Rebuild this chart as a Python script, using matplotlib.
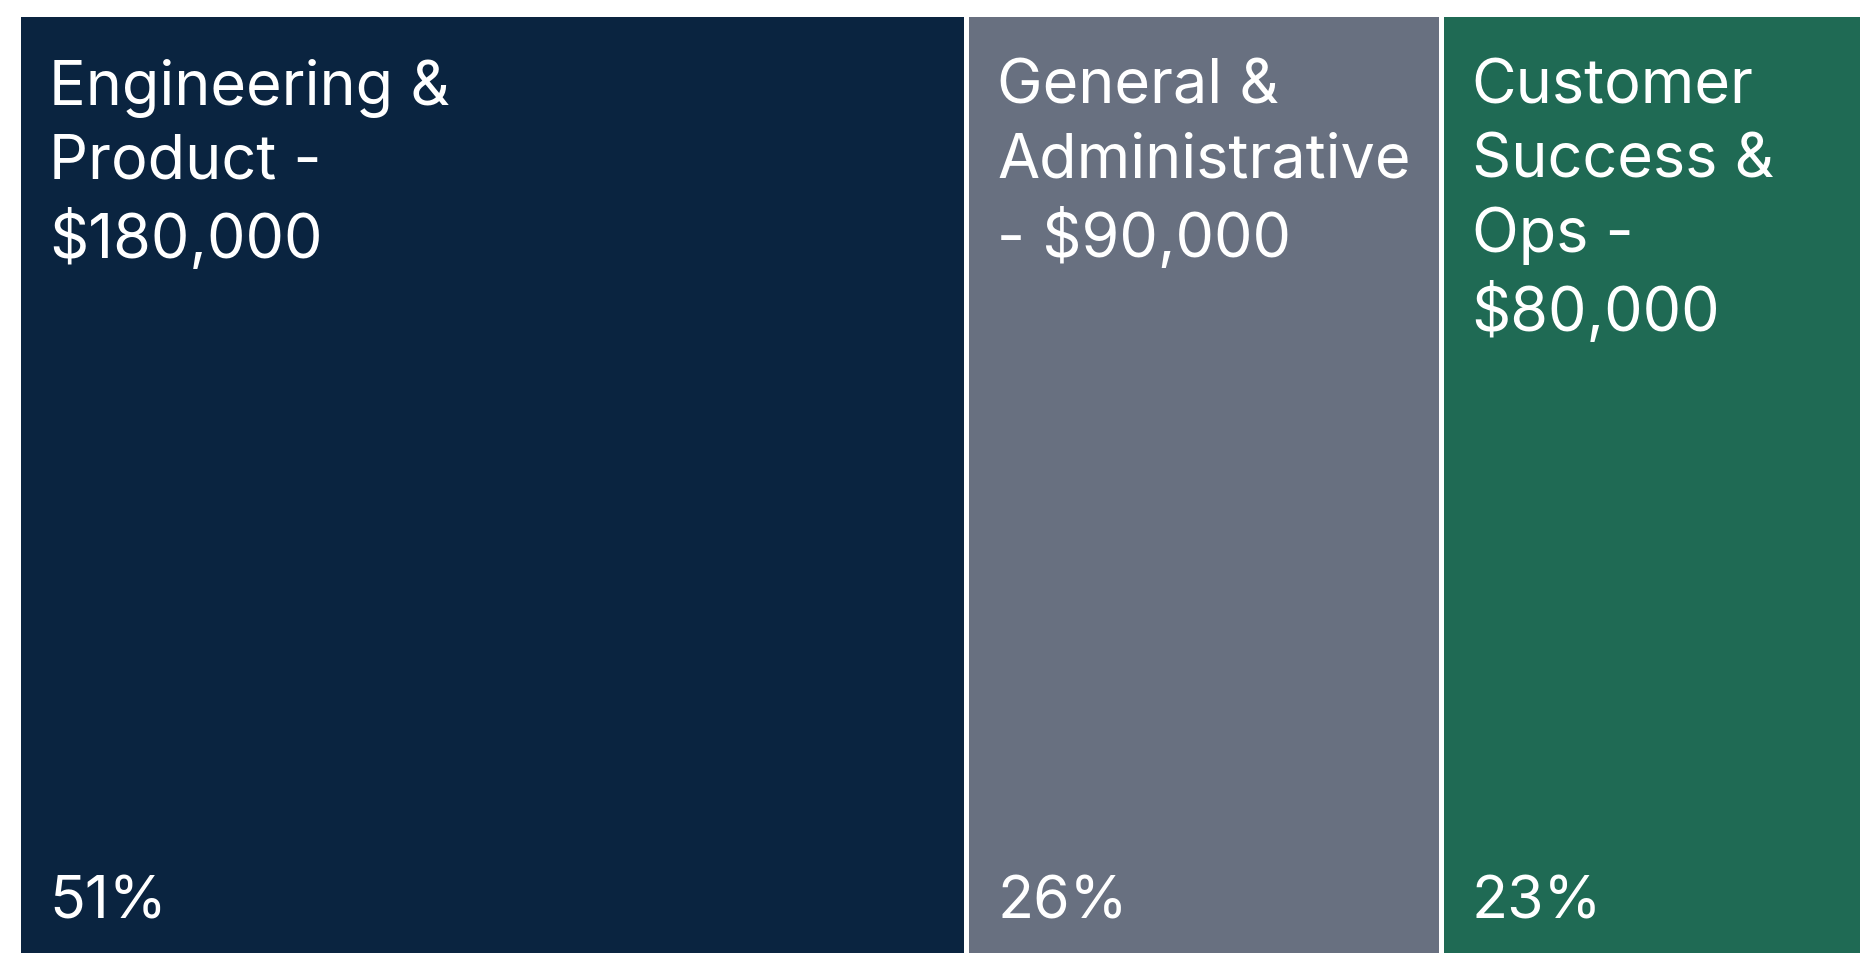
import textwrap
import matplotlib.pyplot as plt
from matplotlib import use

use('Agg')

# budget split by department
departments = ['Engineering & Product', 'General & Administrative', 'Customer Success & Ops']
amounts = [180000, 90000, 80000]
colors = ['#0a2440', '#687080', '#1f6a54']
wrap_widths = [13, 14, 9]  # characters per label line

plt.rcParams['font.family'] = ['Inter', 'DejaVu Sans']

W, H = 1862, 955
fig = plt.figure(figsize=(W / 100, H / 100), dpi=100)
fig.patch.set_facecolor('white')
ax = fig.add_axes([18 / W, 0, 1 - 18 / W, 1 - 14 / H])

total = sum(amounts)
lefts = [sum(amounts[:i]) for i in range(len(amounts))]

ax.bar(lefts, [1] * len(amounts), width=amounts, align='edge', color=colors,
       edgecolor='white', linewidth=3.6, clip_on=False)

for left, name, amt, ww in zip(lefts, departments, amounts, wrap_widths):
    label = textwrap.fill(f'{name} - ${amt:,}', width=ww)
    ax.annotate(label, xy=(left, 1), xycoords='data',
                xytext=(31, -45), textcoords='offset pixels',
                ha='left', va='top', color='white', fontsize=44,
                linespacing=1.35)
    ax.annotate(f'{amt / total:.0%}', xy=(left, 0), xycoords='data',
                xytext=(31, 37), textcoords='offset pixels',
                ha='left', va='baseline', color='white', fontsize=42.5)

ax.set_xlim(0, total)
ax.set_ylim(0, 1)
ax.axis('off')

fig.savefig('out.png', dpi=100, facecolor='white')
